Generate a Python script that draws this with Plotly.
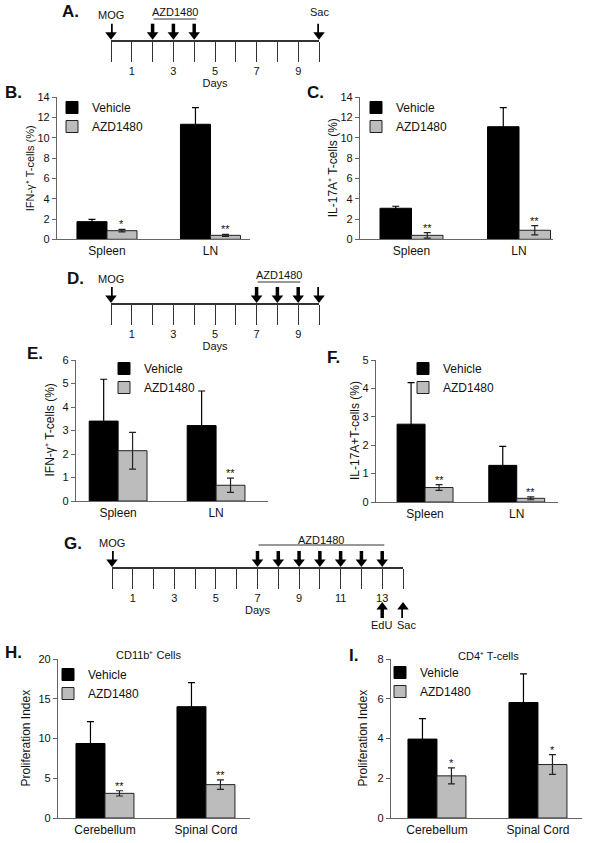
import plotly.graph_objects as go

W, H = 600, 843
FONT = "Liberation Sans, Arial, Helvetica, sans-serif"

# ---------------- data ----------------
groups = ["Vehicle", "AZD1480"]
lymph_tissues = ["Spleen", "LN"]
cns_tissues = ["Cerebellum", "Spinal Cord"]

# B: IFN-g+ T cells (%) - treatment days 2-4
B_vehicle = [1.74, 11.34]
B_vehicle_err = [0.23, 1.64]
B_azd = [0.85, 0.39]
B_azd_err = [0.12, 0.10]
B_sig = ["*", "**"]

# C: IL-17A+ T cells (%) - treatment days 2-4
C_vehicle = [3.06, 11.10]
C_vehicle_err = [0.20, 1.88]
C_azd = [0.39, 0.89]
C_azd_err = [0.27, 0.46]
C_sig = ["**", "**"]

# E: IFN-g+ T cells (%) - treatment days 7-9
E_vehicle = [3.40, 3.21]
E_vehicle_err = [1.78, 1.47]
E_azd = [2.14, 0.67]
E_azd_err = [0.78, 0.30]
E_sig = ["", "**"]

# F: IL-17A+ T cells (%) - treatment days 7-9
F_vehicle = [2.74, 1.29]
F_vehicle_err = [1.46, 0.67]
F_azd = [0.51, 0.13]
F_azd_err = [0.10, 0.05]
F_sig = ["**", "**"]

# H: CD11b+ cells proliferation index
H_vehicle = [9.37, 14.00]
H_vehicle_err = [2.76, 3.03]
H_azd = [3.10, 4.20]
H_azd_err = [0.33, 0.60]
H_sig = ["**", "**"]

# I: CD4+ T cells proliferation index
I_vehicle = [3.97, 5.81]
I_vehicle_err = [1.03, 1.44]
I_azd = [2.12, 2.69]
I_azd_err = [0.40, 0.50]
I_sig = ["*", "*"]

# Timelines (days)
A_days = list(range(0, 11))
A_day_labels = [1, 3, 5, 7, 9]
A_mog = [0]
A_azd = [2, 3, 4]
A_sac = [10]

D_days = list(range(0, 11))
D_day_labels = [1, 3, 5, 7, 9]
D_mog = [0]
D_azd = [7, 8, 9]
D_sac = [10]

G_days = list(range(0, 15))
G_day_labels = [1, 3, 5, 7, 9, 11, 13]
G_mog = [0]
G_azd = [7, 8, 9, 10, 11, 12, 13]
G_edu = [13]
G_sac = [14]


def yp(p):
    return 1 - p / H


def xp(p):
    return p / W


fig = go.Figure()
annotations = []

AX_COL = "#666666"
BAR_GRAY = "#bcbcbc"
EDGE = "#222222"
TXT = "#111111"


def txt_ann(x, y, text, size=11, xref="paper", yref="paper", **kw):
    d = dict(x=x, y=y, xref=xref, yref=yref, text=text, showarrow=False,
             xanchor="center", yanchor="middle", font=dict(size=size, color=TXT))
    d.update(kw)
    return d


# ---------------- bar panels ----------------
panels = [
    dict(v=B_vehicle, ve=B_vehicle_err, a=B_azd, ae=B_azd_err, sig=B_sig, cats=lymph_tissues,
         x0=57, x1=250, yb=239.3, yt=97.3, ymax=14, dtick=2, xr=[-0.483, 1.382], w=0.29,
         ytitle="IFN-γ⁺ T-cells (%)", tsize=11, tx=30, leg=(92, 93), title=None),
    dict(v=C_vehicle, ve=C_vehicle_err, a=C_azd, ae=C_azd_err, sig=C_sig, cats=lymph_tissues,
         x0=360, x1=553, yb=239.3, yt=97.3, ymax=14, dtick=2, xr=[-0.479, 1.316], w=0.293,
         ytitle="IL-17A⁺ T-cells (%)", tsize=12, tx=333, leg=(396, 93), title=None),
    dict(v=E_vehicle, ve=E_vehicle_err, a=E_azd, ae=E_azd_err, sig=E_sig, cats=lymph_tissues,
         x0=76, x1=268, yb=501, yt=360, ymax=6, dtick=1, xr=[-0.43, 1.53], w=0.295,
         ytitle="IFN-γ⁺ T-cells (%)", tsize=12, tx=50, leg=(144, 354), title=None),
    dict(v=F_vehicle, ve=F_vehicle_err, a=F_azd, ae=F_azd_err, sig=F_sig, cats=lymph_tissues,
         x0=376, x1=558, yb=502, yt=360, ymax=5, dtick=1, xr=[-0.535, 1.45], w=0.305,
         ytitle="IL-17A+T-cells (%)", tsize=12, tx=355, leg=(443, 354), title=None),
    dict(v=H_vehicle, ve=H_vehicle_err, a=H_azd, ae=H_azd_err, sig=H_sig, cats=cns_tissues,
         x0=58, x1=250, yb=818, yt=659, ymax=20, dtick=5, xr=[-0.465, 1.436], w=0.287,
         ytitle="Proliferation Index", tsize=12, tx=25, leg=(88, 660),
         title=("CD11b⁺ Cells", 148, 655)),
    dict(v=I_vehicle, ve=I_vehicle_err, a=I_azd, ae=I_azd_err, sig=I_sig, cats=cns_tissues,
         x0=391, x1=582, yb=818, yt=659, ymax=8, dtick=2, xr=[-0.455, 1.436], w=0.287,
         ytitle="Proliferation Index", tsize=12, tx=362, leg=(420, 658),
         title=("CD4⁺ T-cells", 489, 656)),
]

layout_axes = {}
for i, p in enumerate(panels, start=1):
    xa = "x" if i == 1 else f"x{i}"
    ya = "y" if i == 1 else f"y{i}"
    lg = "legend" if i == 1 else f"legend{i}"
    xpos = list(range(len(p["cats"])))
    w = p["w"]
    fig.add_trace(go.Bar(
        x=xpos, y=p["v"], width=w, offset=-w, name=groups[0],
        marker=dict(color="#000000", line=dict(color="#000000", width=1)),
        error_y=dict(type="data", array=p["ve"], symmetric=True, color="#000000",
                     thickness=1.2, width=3.5),
        xaxis=xa, yaxis=ya, legend=lg, hoverinfo="y",
    ))
    fig.add_trace(go.Bar(
        x=xpos, y=p["a"], width=w, offset=0, name=groups[1],
        marker=dict(color=BAR_GRAY, line=dict(color=EDGE, width=1)),
        error_y=dict(type="data", array=p["ae"], symmetric=True, color="#222222",
                     thickness=1.2, width=3.5),
        xaxis=xa, yaxis=ya, legend=lg, hoverinfo="y",
    ))
    layout_axes["xaxis" if i == 1 else f"xaxis{i}"] = dict(
        domain=[xp(p["x0"]), xp(p["x1"])], anchor=ya, range=p["xr"],
        showline=True, linecolor=AX_COL, linewidth=1.2, ticks="",
        tickvals=xpos, ticktext=p["cats"], tickfont=dict(size=12, color=TXT),
        showgrid=False, zeroline=False, fixedrange=True, automargin=False,
    )
    layout_axes["yaxis" if i == 1 else f"yaxis{i}"] = dict(
        domain=[yp(p["yb"]), yp(p["yt"])], anchor=xa, range=[0, p["ymax"]],
        dtick=p["dtick"], tick0=0, showline=True, linecolor=AX_COL, linewidth=1.2,
        ticks="outside", ticklen=4, tickcolor=AX_COL, tickwidth=1.2,
        tickfont=dict(size=11, color=TXT), showgrid=False, zeroline=False,
        fixedrange=True, automargin=False,
    )
    layout_axes[lg] = dict(
        x=xp(p["leg"][0] - 40), y=yp(p["leg"][1]), xanchor="left", yanchor="top",
        bgcolor="rgba(0,0,0,0)", font=dict(size=12, color=TXT), traceorder="normal",
    )
    # y-axis title, centred on the axis
    annotations.append(txt_ann(xp(p["tx"]), (yp(p["yb"]) + yp(p["yt"])) / 2, p["ytitle"],
                               size=p["tsize"], textangle=-90))
    # significance stars above AZD1480 error bars
    for j, s in enumerate(p["sig"]):
        if s:
            annotations.append(dict(
                x=xpos[j] + w / 2, y=p["a"][j] + p["ae"][j], xref=xa, yref=ya,
                text=s, showarrow=False, xanchor="center", yanchor="bottom", yshift=-3,
                font=dict(size=11, color=TXT),
            ))
    if p["title"]:
        t, tx, ty = p["title"]
        annotations.append(txt_ann(xp(tx), yp(ty), t, size=11))

# ---------------- timelines ----------------
timelines = [
    dict(days=A_days, labels=A_day_labels, mog=A_mog, azd=A_azd, sac=A_sac, edu=[], sac_up=[],
         x0=111, x1=319, line=40.7, top=0, bot=90,
         azd_lab=(3.1, 12), azd_line_y=19, mog_y=15, sac_lab=(10, 12)),
    dict(days=D_days, labels=D_day_labels, mog=D_mog, azd=D_azd, sac=D_sac, edu=[], sac_up=[],
         x0=111, x1=319, line=304, top=265, bot=350,
         azd_lab=(8.1, 275), azd_line_y=282, mog_y=279, sac_lab=(10.1, 275)),
    dict(days=G_days, labels=G_day_labels, mog=G_mog, azd=G_azd, sac=[], edu=G_edu, sac_up=G_sac,
         x0=112, x1=403, line=568, top=530, bot=632,
         azd_lab=(10.05, 540), azd_line_y=545, mog_y=543, sac_lab=None),
]

ARROW_TAIL = 17   # px above the day line
ARROW_TIP = 1
HEAD = 10

for k, t in enumerate(timelines, start=7):
    xa, ya = f"x{k}", f"y{k}"
    line = t["line"]
    down = t["mog"] + t["azd"] + t["sac"]
    sx, sy = [], []
    for d in down:
        sx += [d, d, None]
        sy += [ARROW_TAIL, ARROW_TIP + HEAD * 0.6, None]
    ups = t["edu"] + t["sac_up"]
    for d in ups:
        sx += [d, d, None]
        sy += [-(618 - line), -(602 - line) - HEAD * 0.6, None]
    fig.add_trace(go.Scatter(x=sx, y=sy, mode="lines", line=dict(color="#000", width=3.5),
                             showlegend=False, hoverinfo="skip", xaxis=xa, yaxis=ya))
    fig.add_trace(go.Scatter(x=down, y=[ARROW_TIP + HEAD / 2] * len(down), mode="markers",
                             marker=dict(symbol="triangle-down", size=HEAD, color="#000",
                                         line=dict(width=0)),
                             showlegend=False, hoverinfo="skip", xaxis=xa, yaxis=ya,
                             cliponaxis=False))
    if ups:
        fig.add_trace(go.Scatter(x=ups, y=[-(602 - line) - HEAD / 2] * len(ups), mode="markers",
                                 marker=dict(symbol="triangle-up", size=HEAD, color="#000",
                                             line=dict(width=0)),
                                 showlegend=False, hoverinfo="skip", xaxis=xa, yaxis=ya,
                                 cliponaxis=False))
    # underline spanning the AZD1480 dosing days
    fig.add_trace(go.Scatter(x=[min(t["azd"]) + 0.05, max(t["azd"]) + 0.1],
                             y=[line - t["azd_line_y"]] * 2, mode="lines",
                             line=dict(color="#333", width=1), showlegend=False,
                             hoverinfo="skip", xaxis=xa, yaxis=ya))

    layout_axes[f"xaxis{k}"] = dict(
        domain=[xp(t["x0"]), xp(t["x1"])], anchor="free", position=yp(line),
        range=[t["days"][0], t["days"][-1]],
        showline=True, linecolor="#333", linewidth=1.6,
        ticks="outside", ticklen=20, tickwidth=1.2, tickcolor="#333",
        tickvals=t["labels"], ticktext=[str(d) for d in t["labels"]],
        minor=dict(tickvals=t["days"], ticks="outside", ticklen=20, tickwidth=1.2,
                   tickcolor="#333"),
        tickfont=dict(size=11, color=TXT), showgrid=False, zeroline=False,
        title=dict(text="Days", font=dict(size=11, color=TXT), standoff=1),
        fixedrange=True, automargin=False,
    )
    layout_axes[f"yaxis{k}"] = dict(
        domain=[yp(t["bot"]), yp(t["top"])], anchor=xa,
        range=[-(t["bot"] - line), line - t["top"]],
        visible=False, fixedrange=True, automargin=False,
    )
    annotations.append(txt_ann(t["mog"][0], yp(t["mog_y"]), "MOG", xref=xa))
    ax_, ay_ = t["azd_lab"]
    annotations.append(txt_ann(ax_, yp(ay_), "AZD1480", xref=xa))
    if t["sac_lab"]:
        sxl, syl = t["sac_lab"]
        annotations.append(txt_ann(sxl, yp(syl), "Sac", xref=xa))
    for d in t["edu"]:
        annotations.append(txt_ann(d, yp(625), "EdU", xref=xa, xshift=-1))
    for d in t["sac_up"]:
        annotations.append(txt_ann(d, yp(625), "Sac", xref=xa, xshift=3))

# ---------------- panel letters ----------------
letters = [("A.", 70, 12), ("B.", 13, 93), ("C.", 315, 93), ("D.", 75, 279),
           ("E.", 35, 353), ("F.", 333, 358), ("G.", 73, 543), ("H.", 13, 652),
           ("I.", 353, 655)]
for txt, lx, ly in letters:
    annotations.append(txt_ann(xp(lx), yp(ly), f"<b>{txt}</b>", size=17))

fig.update_layout(
    template="none",
    width=W, height=H, margin=dict(l=0, r=0, t=0, b=0, autoexpand=False),
    paper_bgcolor="white", plot_bgcolor="white",
    font=dict(family=FONT, color=TXT),
    barmode="overlay", annotations=annotations,
    **layout_axes,
)

fig.write_html("out.html", config={"displayModeBar": False},
               post_script="document.body.style.margin='0';document.body.style.padding='0';")
